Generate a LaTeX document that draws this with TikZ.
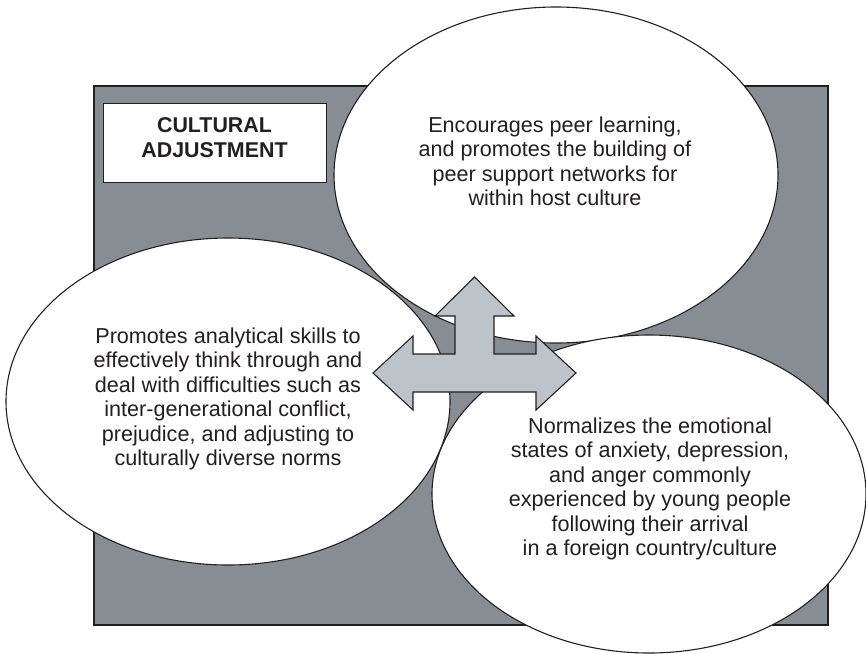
\documentclass[tikz,border=0pt]{standalone}
\usepackage{fontspec}
\setmainfont{Liberation Sans}
\usetikzlibrary{shapes.geometric}
\definecolor{panelgray}{HTML}{888D93}
\definecolor{arrowgray}{HTML}{BEC2C9}
\definecolor{ink}{HTML}{231F20}
\begin{document}
\begin{tikzpicture}[x=1pt,y=-1pt,
  panel/.style={rectangle, draw=ink, line width=1.6pt, fill=panelgray, inner sep=0pt},
  titlebox/.style={rectangle, draw=ink, line width=1.2pt, fill=white, inner sep=0pt},
  bubble/.style={ellipse, draw=ink, line width=1.1pt, fill=white, inner sep=0pt, outer sep=0pt},
  bubbletext/.style={align=center, text=ink, inner sep=0pt, font=\fontsize{21.6}{24.5}\selectfont},
  titletext/.style={align=center, text=ink, inner sep=0pt, font=\bfseries\fontsize{21.4}{25}\selectfont},
  hub/.style={draw=ink, line width=1.1pt, fill=arrowgray, line join=miter}]
\useasboundingbox (0,0) rectangle (866,653);

% grey background panel and its title plate
\node[panel, anchor=north west, minimum width=734pt, minimum height=539pt] (panel) at (93,85) {};
\node[titlebox, anchor=north west, minimum width=223pt, minimum height=79pt] (titleplate) at (103,103) {};
\node[titletext] (title) at (214.5,138) {CULTURAL\\ADJUSTMENT};

% the three bubbles
\node[bubble, minimum width=444pt, minimum height=336pt] (peer) at (556,175) {};
\node[bubble, minimum width=444pt, minimum height=327pt] (skills) at (228,401.5) {};
\node[bubble, minimum width=434pt, minimum height=318pt] (emotion) at (649,494) {};

\node[bubbletext] (peertext) at (555,161.5)
  {Encourages peer learning,\\and promotes the building of\\peer support networks for\\within host culture};
\node[bubbletext] (skillstext) at (228,398.8)
  {Promotes analytical skills to\\effectively think through and\\deal with difficulties such as\\inter-generational conflict,\\prejudice, and adjusting to\\culturally diverse norms};
\node[bubbletext] (emotiontext) at (650,489)
  {Normalizes the emotional\\states of anxiety, depression,\\and anger commonly\\experienced by young people\\following their arrival\\in a foreign country/culture};

% three-way arrow in the middle
\coordinate (hubcentre) at (474.5,373);
\draw[hub] (474.5,277) -- (514,316) -- (494,316) -- (494,354) -- (536,354) -- (536,336)
  -- (576,373) -- (536,410) -- (536,392) -- (413,392) -- (413,410) -- (373,373)
  -- (413,336) -- (413,354) -- (455,354) -- (455,316) -- (435,316) -- cycle;
\end{tikzpicture}
\end{document}
